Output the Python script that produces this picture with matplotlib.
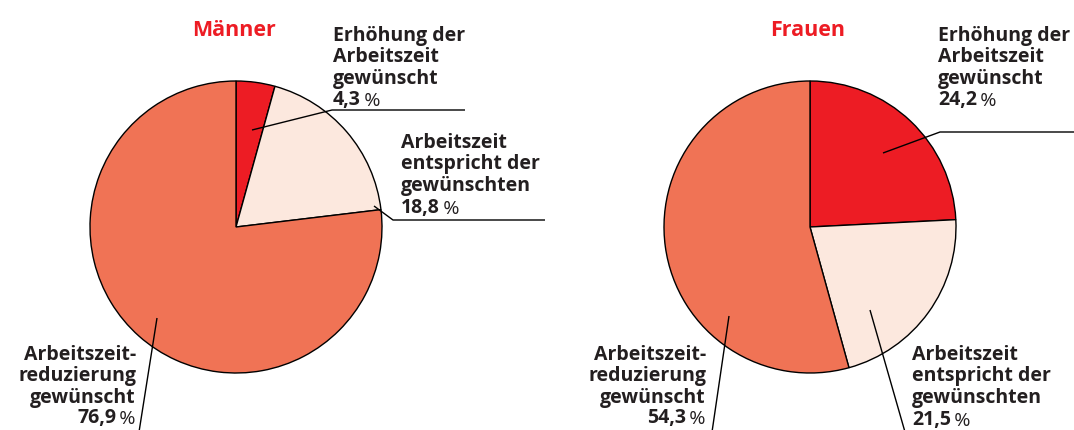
import matplotlib
matplotlib.use("Agg")
import matplotlib.pyplot as plt

W, H = 1074, 430

# Data
groups = ["Männer", "Frauen"]
categories = ["Erhöhung der Arbeitszeit gewünscht",
              "Arbeitszeit entspricht der gewünschten",
              "Arbeitszeitreduzierung gewünscht"]
maenner = [4.3, 18.8, 76.9]
frauen = [24.2, 21.5, 54.3]
label_lines = [["Erhöhung der", "Arbeitszeit", "gewünscht"],
               ["Arbeitszeit", "entspricht der", "gewünschten"],
               ["Arbeitszeit-", "reduzierung", "gewünscht"]]

colors = ["#ED1C24", "#FCE8DE", "#F07355"]
TXT = "#231F20"
FONT = "Open Sans"

fig = plt.figure(figsize=(W / 100, H / 100), dpi=100)
ax = fig.add_axes([0, 0, 1, 1])
ax.set_xlim(0, W)
ax.set_ylim(0, H)
ax.set_aspect("equal")
ax.axis("off")


def Y(y):
    return H - y


def fmt(v):
    return f"{v:.1f}".replace(".", ",")


def label(x, base, lines, value, ha="left", fs=14, ls=21.5):
    for i, line in enumerate(lines):
        ax.text(x, Y(base + i * ls), line, ha=ha, va="baseline", fontsize=fs,
                fontweight="bold", color=TXT, family=FONT)
    yb = Y(base + len(lines) * ls)
    if ha == "left":
        t = ax.text(x, yb, fmt(value), ha="left", va="baseline", fontsize=fs,
                    fontweight="bold", color=TXT, family=FONT)
        ax.annotate("\u2009%", xy=(1, 0), xycoords=t, ha="left", va="bottom",
                    fontsize=fs, color=TXT, family=FONT)
    else:
        t = ax.text(x, yb, "\u2009%", ha="right", va="baseline", fontsize=fs,
                    color=TXT, family=FONT)
        ax.annotate(fmt(value), xy=(0, 0), xycoords=t, ha="right", va="bottom",
                    fontsize=fs, fontweight="bold", color=TXT, family=FONT)


def leader(pts):
    ax.plot([p[0] for p in pts], [Y(p[1]) for p in pts], color="black",
            lw=1, solid_capstyle="butt", zorder=5)


R = 146
centers = [(236, 227), (810, 227)]
for (cx, cy), vals, g in zip(centers, [maenner, frauen], groups):
    ax.pie(vals, colors=colors, startangle=90, counterclock=False,
           center=(cx, Y(cy)), radius=R,
           wedgeprops=dict(edgecolor="black", linewidth=1))
    ax.text(cx - 2, Y(36), g, ha="center", va="baseline", fontsize=15.5,
            fontweight="bold", color="#ED1C24", family=FONT)

ax.set_xlim(0, W)
ax.set_ylim(0, H)

# Männer leaders and labels
leader([(252, 130), (332, 110), (465, 110)])
leader([(374, 206), (393, 220), (545, 220)])
leader([(157, 318), (139, 432)])
label(333, 41, label_lines[0], maenner[0])
label(401, 148, label_lines[1], maenner[1])
label(136, 360, label_lines[2], maenner[2], ha="right")

# Frauen leaders and labels
leader([(883, 153), (940, 132), (1076, 132)])
leader([(870, 310), (905, 432)])
leader([(729, 316), (712, 432)])
label(938, 41, label_lines[0], frauen[0])
label(912, 360, label_lines[1], frauen[1])
label(706, 360, label_lines[2], frauen[2], ha="right")

fig.savefig("out.png", dpi=100)
